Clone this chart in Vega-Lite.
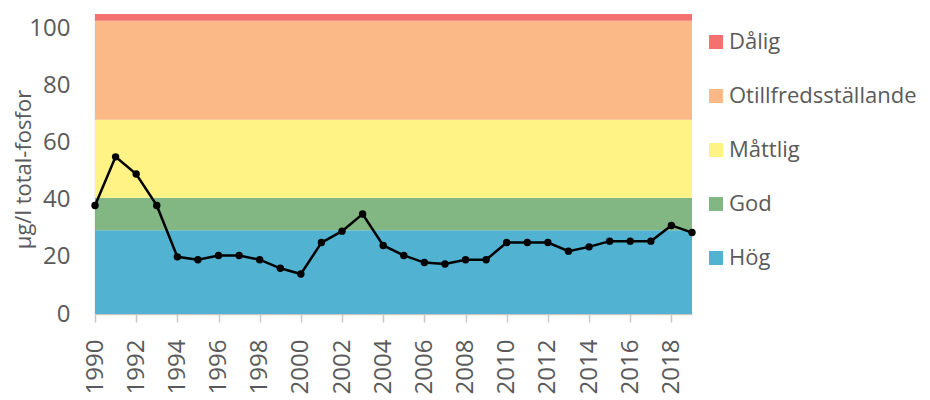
{
  "$schema": "https://vega.github.io/schema/vega-lite/v6.json",
  "width": 597,
  "height": 300,
  "autosize": {"type": "none"},
  "padding": {"left": 95, "top": 14, "right": 238, "bottom": 86},
  "config": {
    "font": "Open Sans",
    "view": {"stroke": null},
    "axis": {"labelColor": "#5a5a5a", "titleColor": "#5a5a5a", "grid": false}
  },
  "datasets": {
    "bands": [
      {"klass": "Hög", "y1": 0, "y2": 29.3},
      {"klass": "God", "y1": 29.3, "y2": 40.7},
      {"klass": "Måttlig", "y1": 40.7, "y2": 68},
      {"klass": "Otillfredsställande", "y1": 68, "y2": 102.6},
      {"klass": "Dålig", "y1": 102.6, "y2": 105}
    ],
    "serie": [
      {"year": 1990, "value": 38},
      {"year": 1991, "value": 55},
      {"year": 1992, "value": 49},
      {"year": 1993, "value": 38},
      {"year": 1994, "value": 20},
      {"year": 1995, "value": 19},
      {"year": 1996, "value": 20.5},
      {"year": 1997, "value": 20.5},
      {"year": 1998, "value": 19},
      {"year": 1999, "value": 16},
      {"year": 2000, "value": 14},
      {"year": 2001, "value": 25},
      {"year": 2002, "value": 29},
      {"year": 2003, "value": 35},
      {"year": 2004, "value": 24},
      {"year": 2005, "value": 20.5},
      {"year": 2006, "value": 18},
      {"year": 2007, "value": 17.5},
      {"year": 2008, "value": 19},
      {"year": 2009, "value": 19},
      {"year": 2010, "value": 25},
      {"year": 2011, "value": 25},
      {"year": 2012, "value": 25},
      {"year": 2013, "value": 22},
      {"year": 2014, "value": 23.5},
      {"year": 2015, "value": 25.5},
      {"year": 2016, "value": 25.5},
      {"year": 2017, "value": 25.5},
      {"year": 2018, "value": 31},
      {"year": 2019, "value": 28.5}
    ]
  },
  "layer": [
    {
      "data": {"name": "bands"},
      "mark": {"type": "rect"},
      "encoding": {
        "x": {
          "datum": 1990,
          "type": "quantitative",
          "scale": {"domain": [1990, 2019], "nice": false, "zero": false},
          "axis": {
            "values": [1990,1991,1992,1993,1994,1995,1996,1997,1998,1999,2000,2001,2002,2003,2004,2005,2006,2007,2008,2009,2010,2011,2012,2013,2014,2015,2016,2017,2018,2019],
            "format": "d",
            "labelExpr": "datum.value % 2 == 0 ? datum.label : ''",
            "labelAngle": -90,
            "labelFontSize": 24,
            "labelPadding": 17,
            "labelOverlap": false,
            "labelFlush": false,
            "tickColor": "#c8c8c8",
            "tickSize": 8,
            "tickWidth": 1.5,
            "domainColor": "#c8c8c8",
            "domainWidth": 1.5,
            "title": null
          }
        },
        "x2": {"datum": 2019},
        "y": {
          "field": "y1",
          "type": "quantitative",
          "scale": {"domain": [0, 105], "nice": false},
          "axis": {
            "values": [0, 20, 40, 60, 80, 100],
            "ticks": false,
            "labelFontSize": 24,
            "labelPadding": 25,
            "domainColor": "#c8c8c8",
            "domainWidth": 1.5,
            "title": "µg/l total-fosfor",
            "titleFontSize": 22,
            "titleFontWeight": "normal",
            "titleAngle": -90,
            "titleX": -72,
            "titleY": 155,
            "titleAlign": "center",
            "titleBaseline": "middle"
          }
        },
        "y2": {"field": "y2"},
        "color": {
          "field": "klass",
          "type": "nominal",
          "scale": {
            "domain": ["Dålig", "Otillfredsställande", "Måttlig", "God", "Hög"],
            "range": ["#f4716f", "#fab986", "#fff385", "#82b783", "#51b2d2"]
          },
          "legend": {
            "title": null,
            "orient": "none",
            "legendX": 610,
            "legendY": 17,
            "padding": 0,
            "symbolType": "square",
            "symbolSize": 196,
            "symbolStrokeWidth": 0,
            "labelFontSize": 22,
            "labelColor": "#5a5a5a",
            "labelOffset": 2,
            "rowPadding": 32,
            "labelLimit": 300
          }
        }
      }
    },
    {
      "data": {"name": "serie"},
      "mark": {
        "type": "line",
        "color": "black",
        "strokeWidth": 2.5,
        "point": {"filled": true, "color": "black", "size": 55, "opacity": 1}
      },
      "encoding": {
        "x": {"field": "year", "type": "quantitative"},
        "y": {"field": "value", "type": "quantitative"}
      }
    }
  ]
}
